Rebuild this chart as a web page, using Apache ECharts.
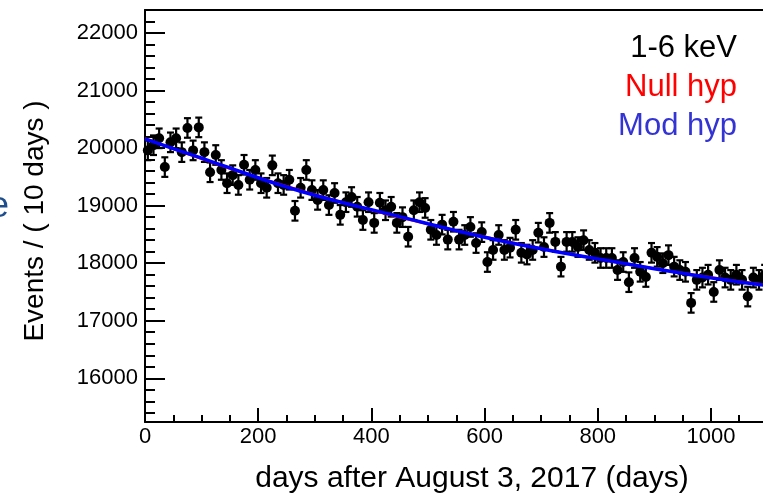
<!DOCTYPE html>
<html><head><meta charset="utf-8">
<script src="https://cdn.jsdelivr.net/npm/echarts@6/dist/echarts.min.js"></script>
<style>html,body{margin:0;padding:0;background:#fff}#c{width:763px;height:494px}</style>
</head><body><div id="c"></div>
<script>
const days = [5,15,25,35,45,55,65,75,85,95,105,115,125,135,145,155,165,175,185,195,
  205,215,225,235,245,255,265,275,285,295,305,315,325,335,345,355,365,375,385,395,
  405,415,425,435,445,455,465,475,485,495,505,515,525,535,545,555,565,575,585,595,
  605,615,625,635,645,655,665,675,685,695,705,715,725,735,745,755,765,775,785,795,
  805,815,825,835,845,855,865,875,885,895,905,915,925,935,945,955,965,975,985,995,
  1005,1015,1025,1035,1045,1055,1065,1075,1085,1095];
const events = [19960,20050,20170,19670,20100,20170,19930,20350,19960,20360,
  19930,19580,19880,19620,19390,19530,19360,19710,19450,19620,
  19390,19310,19700,19390,19360,19450,18910,19310,19620,19270,
  19100,19270,19010,19220,18840,19060,19150,18980,18750,19060,
  18700,19050,18920,18980,18700,18800,18460,18920,19060,18960,
  18580,18490,18670,18410,18720,18410,18490,18630,18350,18540,
  18020,18230,18490,18230,18270,18580,18180,18150,18230,18530,
  18280,18700,18370,17940,18370,18370,18280,18400,18230,18180,
  18090,18090,18090,17880,18020,17670,18090,17850,17760,18180,
  18110,18000,18140,17940,17880,17850,17310,17710,17750,17800,
  17500,17880,17750,17710,17800,17710,17420,17750,17710,17800];
const errHalf = 170;
const curveDays = [0,50,100,150,200,250,300,350,400,450,500,550,600,650,700,750,800,850,900,950,1000,1050,1100];
const nullHyp = [20170,19987,19812,19646,19488,19336,19192,19055,18924,18799,18679,18566,18458,18354,18256,18162,18073,17987,17906,17828,17754,17684,17617];
const modHyp  = [20160,19990,19825,19655,19485,19325,19180,19050,18930,18810,18685,18565,18450,18345,18250,18160,18075,17990,17905,17825,17745,17672,17610];
const xMajor = [0,200,400,600,800,1000];
const xMinor = [50,100,150,250,300,350,450,500,550,650,700,750,850,900,950,1050];
const yMajor = [16000,17000,18000,19000,20000,21000,22000];
const yMinor = [15400,15600,15800,16200,16400,16600,16800,17200,17400,17600,17800,18200,18400,18600,18800,19200,19400,19600,19800,20200,20400,20600,20800,21200,21400,21600,21800,22200];

const FF = '"Liberation Sans", Arial, Helvetica, sans-serif';
const X_MIN = 0, X_MAX = 1092, Y_MIN = 15240, Y_MAX = 22400;
const black = '#000';
const plain = v => String(v);

const chart = echarts.init(document.getElementById('c'), null, {renderer: 'canvas'});
const axLine = {show: true, onZero: false, lineStyle: {color: black, width: 2}};
const option = {
  backgroundColor: '#fff',
  animation: false,
  grid: {left: 145, top: 10, right: 0, bottom: 72, containLabel: false},
  xAxis: [
    {type: 'value', min: X_MIN, max: X_MAX, position: 'bottom',
     axisLine: axLine,
     axisTick: {show: true, inside: true, length: 14, customValues: xMajor, lineStyle: {color: black, width: 2}},
     axisLabel: {show: true, customValues: xMajor, formatter: plain, color: black, fontSize: 22, fontFamily: FF, margin: 4},
     splitLine: {show: false}},
    {type: 'value', min: X_MIN, max: X_MAX, position: 'bottom',
     axisLine: {show: false, onZero: false},
     axisTick: {show: true, inside: true, length: 7, customValues: xMinor, lineStyle: {color: black, width: 2}},
     axisLabel: {show: false}, splitLine: {show: false}},
    {type: 'value', min: X_MIN, max: X_MAX, position: 'top',
     axisLine: axLine, axisTick: {show: false}, axisLabel: {show: false}, splitLine: {show: false}}
  ],
  yAxis: [
    {type: 'value', min: Y_MIN, max: Y_MAX, position: 'left',
     axisLine: axLine,
     axisTick: {show: true, inside: true, length: 20, customValues: yMajor, lineStyle: {color: black, width: 2}},
     axisLabel: {show: true, customValues: yMajor, formatter: plain, color: black, fontSize: 22, fontFamily: FF, margin: 7},
     splitLine: {show: false}},
    {type: 'value', min: Y_MIN, max: Y_MAX, position: 'left',
     axisLine: {show: false, onZero: false},
     axisTick: {show: true, inside: true, length: 10, customValues: yMinor, lineStyle: {color: black, width: 2}},
     axisLabel: {show: false}, splitLine: {show: false}}
  ],
  series: [
    {type: 'custom', xAxisIndex: 0, yAxisIndex: 0, clip: false, z: 2,
     data: days.map((d, i) => [d, events[i] - errHalf, events[i] + errHalf]),
     encode: {x: 0, y: [1, 2]},
     renderItem: function (params, api) {
       const x = api.value(0);
       const lo = api.coord([x, api.value(1)]);
       const hi = api.coord([x, api.value(2)]);
       const c = 3.5;
       const st = {stroke: black, lineWidth: 2.2};
       return {type: 'group', children: [
         {type: 'line', shape: {x1: lo[0], y1: lo[1], x2: hi[0], y2: hi[1]}, style: st},
         {type: 'line', shape: {x1: lo[0] - c, y1: lo[1], x2: lo[0] + c, y2: lo[1]}, style: st},
         {type: 'line', shape: {x1: hi[0] - c, y1: hi[1], x2: hi[0] + c, y2: hi[1]}, style: st}
       ]};
     }},
    {type: 'scatter', xAxisIndex: 0, yAxisIndex: 0, clip: false, z: 3,
     symbol: 'circle', symbolSize: 10, itemStyle: {color: black, opacity: 1},
     data: days.map((d, i) => [d, events[i]])},
    {type: 'line', xAxisIndex: 0, yAxisIndex: 0, z: 4, smooth: true, showSymbol: false,
     lineStyle: {color: '#ff0000', width: 2.5},
     data: curveDays.map((d, i) => [d, nullHyp[i]])},
    {type: 'line', xAxisIndex: 0, yAxisIndex: 0, z: 5, smooth: true, showSymbol: false,
     lineStyle: {color: '#0000ff', width: 3.5},
     data: curveDays.map((d, i) => [d, modHyp[i]])}
  ],
  graphic: [
    {type: 'text', x: 737, y: 48, z: 10, style: {text: '1-6 keV', fill: '#000', font: '31px ' + FF, textAlign: 'right', textVerticalAlign: 'middle'}},
    {type: 'text', x: 737, y: 87, z: 10, style: {text: 'Null hyp', fill: '#ff0000', font: '31px ' + FF, textAlign: 'right', textVerticalAlign: 'middle'}},
    {type: 'text', x: 737, y: 126, z: 10, style: {text: 'Mod hyp', fill: '#3434d4', font: '31px ' + FF, textAlign: 'right', textVerticalAlign: 'middle'}},
    {type: 'text', x: 472, y: 479, style: {text: 'days after August 3, 2017 (days)', fill: '#000', font: '30px ' + FF, textAlign: 'center', textVerticalAlign: 'middle'}},
    {type: 'text', x: 35, y: 221, rotation: Math.PI / 2, style: {text: 'Events / ( 10 days )', fill: '#000', font: '28px ' + FF, textAlign: 'center', textVerticalAlign: 'middle'}},
    {type: 'text', x: 9, y: 207, style: {text: 'e', fill: '#1f4e8c', font: '36px ' + FF, textAlign: 'right', textVerticalAlign: 'middle'}}
  ]
};
chart.setOption(option);
</script>
</body></html>
